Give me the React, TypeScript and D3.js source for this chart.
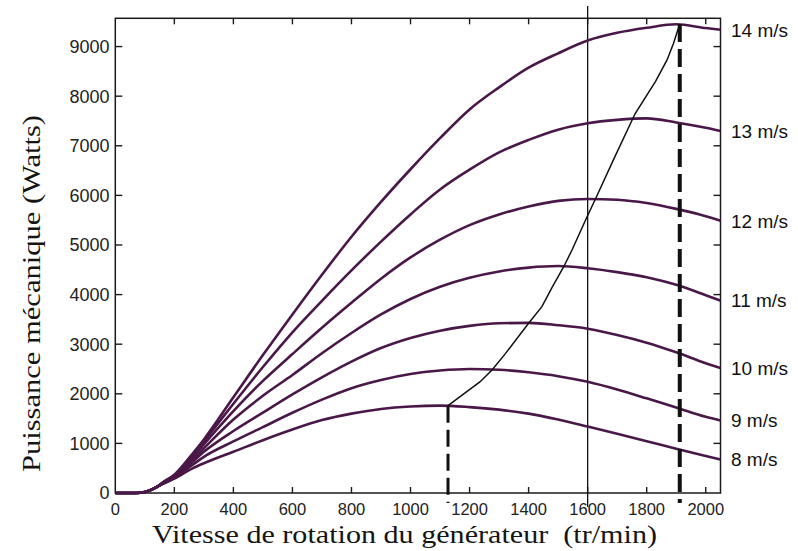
import React, { useEffect, useRef } from "react";
import * as d3 from "d3";

// generator speed (tr/min) at which the power curves are sampled
const rpm = [0, 70, 100, 140, 160, 200, 260, 300, 400, 500, 600, 700, 800, 900, 1000, 1100, 1200, 1300, 1400, 1500, 1600, 1700, 1800, 1900, 2000, 2050];

const windLabels = ["8 m/s", "9 m/s", "10 m/s", "11 m/s", "12 m/s", "13 m/s", "14 m/s"];

// mechanical power (W), one list per wind speed
const p8 = [0, 0, 20, 120, 180, 290, 490, 600, 830, 1065, 1280, 1470, 1600, 1695, 1745, 1762, 1732, 1680, 1600, 1480, 1340, 1195, 1045, 890, 745, 675];
const p9 = [0, 0, 20, 120, 185, 310, 560, 730, 1040, 1329, 1617, 1882, 2113, 2278, 2399, 2469, 2500, 2484, 2433, 2355, 2241, 2086, 1908, 1724, 1535, 1460];
const p10 = [0, 0, 20, 120, 190, 330, 620, 830, 1250, 1621, 1988, 2332, 2648, 2922, 3125, 3273, 3369, 3422, 3429, 3383, 3312, 3187, 3031, 2836, 2617, 2520];
const p11 = [0, 0, 20, 120, 195, 340, 660, 900, 1480, 1960, 2379, 2818, 3226, 3600, 3912, 4159, 4339, 4466, 4544, 4575, 4531, 4453, 4349, 4196, 3988, 3880];
const p12 = [0, 0, 20, 120, 200, 350, 700, 980, 1650, 2260, 2801, 3331, 3834, 4320, 4749, 5106, 5400, 5615, 5777, 5889, 5928, 5913, 5846, 5728, 5581, 5490];
const p13 = [0, 0, 20, 120, 205, 360, 740, 1040, 1800, 2540, 3240, 3875, 4488, 5068, 5616, 6119, 6518, 6866, 7119, 7325, 7454, 7522, 7552, 7471, 7363, 7300];
const p14 = [0, 0, 20, 120, 210, 370, 780, 1080, 1930, 2780, 3600, 4400, 5166, 5868, 6527, 7154, 7733, 8178, 8574, 8864, 9121, 9277, 9378, 9450, 9373, 9340];

// optimal power path (black line)
const mpptRpm = [1127, 1236, 1276, 1320, 1400, 1445, 1480, 1519, 1547, 1598, 1626, 1690, 1761, 1830, 1869, 1890, 1912];
const mpptPower = [1760, 2244, 2480, 2800, 3421, 3756, 4150, 4562, 4899, 5570, 5921, 6750, 7650, 8300, 8730, 9050, 9456];

const xTicks = [0, 200, 400, 600, 800, 1000, 1200, 1400, 1600, 1800, 2000];
const yTicks = [0, 1000, 2000, 3000, 4000, 5000, 6000, 7000, 8000, 9000];
const refRpm = 1600;

export default function App() {
  const ref = useRef<SVGSVGElement>(null);

  useEffect(() => {
    const W = 798, H = 551;
    const left = 115.3, right = 720.5, top = 18.3, bottom = 493;
    const svg = d3.select(ref.current);
    svg.selectAll("*").remove();
    svg.attr("width", W).attr("height", H);

    const x = d3.scaleLinear().domain([0, 2050]).range([left, right]);
    const y = d3.scaleLinear().domain([0, 9570]).range([bottom, top]);

    const series = [p8, p9, p10, p11, p12, p13, p14];
    const line = d3.line<number>()
      .x((d, i) => x(rpm[i]))
      .y(d => y(d))
      .curve(d3.curveMonotoneX);

    // frame
    svg.append("rect")
      .attr("x", left).attr("y", top)
      .attr("width", right - left).attr("height", bottom - top)
      .attr("fill", "none").attr("stroke", "#1a1a1a").attr("stroke-width", 1.5);

    const tickG = svg.append("g").attr("stroke", "#1a1a1a").attr("stroke-width", 1.4);
    xTicks.filter(t => t > 0).forEach(t => {
      tickG.append("line").attr("x1", x(t)).attr("x2", x(t)).attr("y1", bottom).attr("y2", bottom - 6);
      tickG.append("line").attr("x1", x(t)).attr("x2", x(t)).attr("y1", top).attr("y2", top + 6);
    });
    yTicks.filter(t => t > 0).forEach(t => {
      tickG.append("line").attr("x1", left).attr("x2", left + 7).attr("y1", y(t)).attr("y2", y(t));
      tickG.append("line").attr("x1", right).attr("x2", right - 7).attr("y1", y(t)).attr("y2", y(t));
    });

    svg.append("g").selectAll("text").data(xTicks).enter().append("text")
      .attr("x", d => x(d)).attr("y", 515)
      .attr("text-anchor", "middle")
      .attr("font-family", "'Liberation Sans', Arial, sans-serif")
      .attr("font-size", 16.5).attr("fill", "#222")
      .text(d => String(d));

    svg.append("g").selectAll("text").data(yTicks).enter().append("text")
      .attr("x", 109.5).attr("y", d => y(d))
      .attr("dy", "0.36em")
      .attr("text-anchor", "end")
      .attr("font-family", "'Liberation Sans', Arial, sans-serif")
      .attr("font-size", 18).attr("fill", "#222")
      .text(d => String(d));

    // reference vertical line
    svg.append("line")
      .attr("x1", x(refRpm)).attr("x2", x(refRpm))
      .attr("y1", 6).attr("y2", 507)
      .attr("stroke", "#111").attr("stroke-width", 1.3);

    // power curves
    svg.append("g").selectAll("path").data(series).enter().append("path")
      .attr("d", d => line(d))
      .attr("fill", "none")
      .attr("stroke", "#4a1848")
      .attr("stroke-width", 2.6);

    // optimal path
    const mppt = d3.line<number>()
      .x(d => x(d))
      .y((d, i) => y(mpptPower[i]));
    svg.append("path")
      .attr("d", mppt(mpptRpm))
      .attr("fill", "none").attr("stroke", "#111").attr("stroke-width", 1.5);

    // dashed drops from the two ends of the path
    const ends = [0, mpptRpm.length - 1];
    ends.forEach((k, j) => {
      svg.append("line")
        .attr("x1", x(mpptRpm[k])).attr("x2", x(mpptRpm[k]))
        .attr("y1", y(mpptPower[k])).attr("y2", 503)
        .attr("stroke", "#111")
        .attr("stroke-width", j === 0 ? 3 : 4)
        .attr("stroke-dasharray", j === 0 ? "17,7" : "18,7");
    });

    // wind speed labels
    svg.append("g").selectAll("text").data(series).enter().append("text")
      .attr("x", 731)
      .attr("y", d => y(d[d.length - 1]))
      .attr("dy", "0.36em")
      .attr("font-family", "'Liberation Sans', Arial, sans-serif")
      .attr("font-size", 19).attr("fill", "#111")
      .text((d, i) => windLabels[i]);

    // axis titles
    svg.append("text")
      .attr("x", 152).attr("y", 543)
      .attr("textLength", 505).attr("lengthAdjust", "spacingAndGlyphs")
      .attr("font-family", "'Liberation Serif', 'Times New Roman', serif")
      .attr("font-size", 25).attr("fill", "#151515")
      .style("white-space", "pre")
      .text("Vitesse de rotation du générateur  (tr/min)");

    svg.append("text")
      .attr("transform", "translate(40,472) rotate(-90)")
      .attr("x", 0).attr("y", 0)
      .attr("textLength", 357).attr("lengthAdjust", "spacingAndGlyphs")
      .attr("font-family", "'Liberation Serif', 'Times New Roman', serif")
      .attr("font-size", 26).attr("fill", "#151515")
      .text("Puissance mécanique (Watts)");
  }, []);

  return (
    <svg ref={ref} style={{ position: "absolute", left: 0, top: 0, background: "#fff" }}></svg>
  );
}
